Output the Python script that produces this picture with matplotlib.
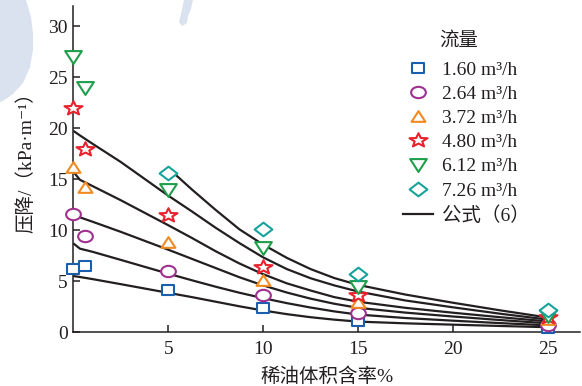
import matplotlib
matplotlib.use("Agg")
import matplotlib.pyplot as plt
from matplotlib.path import Path
from matplotlib.transforms import Affine2D
from matplotlib.patches import Polygon
from matplotlib.lines import Line2D

plt.rcParams['font.family'] = ['Liberation Serif', 'Noto Sans CJK SC', 'DejaVu Serif']

# ---- measured pressure drop (kPa/m) vs. diluent oil volume fraction (%) ----
x_meas = [0, 0.6, 5, 10, 15, 25]
x_meas_726 = [5, 10, 15, 25]

dp_160 = [6.2, 6.5, 4.1, 2.35, 1.15, 0.4]
dp_264 = [11.6, 9.45, 6.05, 3.65, 1.9, 0.72]
dp_372 = [16.2, 14.2, 8.9, 5.1, 3.0, 1.35]
dp_480 = [21.95, 18.0, 11.5, 6.45, 3.65, 1.5]
dp_612 = [27.0, 24.0, 13.95, 8.3, 4.4, 1.6]
dp_726 = [15.65, 10.1, 5.7, 2.2]

flow_labels = ['1.60 m³/h', '2.64 m³/h', '3.72 m³/h',
               '4.80 m³/h', '6.12 m³/h', '7.26 m³/h']
formula_label = '公式（6）'
legend_title = '流量'

# ---- values given by formula (6) ----
x_calc = [0, 0.35, 1, 2.5, 5, 6.25, 7.5, 8.75, 10, 11.25, 12.5, 13.75, 15,
          17.5, 20, 22.5, 25]
x_calc_726 = [5, 6.25, 7.5, 8.75, 10, 11.25, 12.5, 13.75, 15, 17.5, 20, 22.5, 25]

calc_160 = [5.52, 5.42, 5.22, 4.72, 3.87, 3.45, 3.0, 2.55, 2.14, 1.78, 1.48,
            1.24, 1.05, 0.88, 0.75, 0.62, 0.5]
calc_264 = [8.72, 8.2, 7.9, 7.1, 5.75, 5.1, 4.47, 3.88, 3.35, 2.86, 2.43,
            2.05, 1.74, 1.4, 1.14, 0.9, 0.68]
calc_372 = [11.67, 11.27, 10.85, 9.85, 8.1, 7.2, 6.3, 5.4, 4.6, 3.9, 3.3,
            2.8, 2.4, 1.93, 1.55, 1.2, 0.88]
calc_480 = [15.75, 14.95, 14.35, 12.95, 10.5, 9.25, 7.95, 6.75, 5.7, 4.8, 4.1,
            3.45, 3.0, 2.4, 1.92, 1.48, 1.07]
calc_612 = [19.75, 19.3, 18.5, 16.7, 13.4, 11.85, 10.25, 8.75, 7.35, 6.2, 5.3,
            4.6, 4.0, 3.12, 2.45, 1.82, 1.25]
calc_726 = [16.1, 14.0, 12.0, 10.1, 8.6, 7.3, 6.2, 5.32, 4.65, 3.7, 2.9,
            2.15, 1.45]

colors = ['#1a5fae', '#a0308f', '#f28a22', '#e8232e', '#1f9e4b', '#17a39b']

# ---- slightly widened marker shapes ----
SX = 1.3


def widened(path):
    return Affine2D().scale(SX, 1.0).transform_path(path)


square = widened(Path([(-1, -1), (1, -1), (1, 1), (-1, 1), (-1, -1)],
                      [Path.MOVETO, Path.LINETO, Path.LINETO, Path.LINETO, Path.CLOSEPOLY]))
ellipse = widened(Path.unit_circle())
tri_up = widened(Path([(0, 1), (-1, -1), (1, -1), (0, 1)],
                      [Path.MOVETO, Path.LINETO, Path.LINETO, Path.CLOSEPOLY]))
star = widened(Path.unit_regular_star(5, 0.42))
tri_down = widened(Path([(0, -1), (-1, 1), (1, 1), (0, -1)],
                        [Path.MOVETO, Path.LINETO, Path.LINETO, Path.CLOSEPOLY]))
diamond = widened(Path([(0, -1), (1, 0), (0, 1), (-1, 0), (0, -1)],
                       [Path.MOVETO, Path.LINETO, Path.LINETO, Path.LINETO, Path.CLOSEPOLY]))

markers = [square, ellipse, tri_up, star, tri_down, diamond]
msizes = [9.0, 10.6, 10.0, 13.0, 12.0, 12.8]

fig = plt.figure(figsize=(5.82, 3.86), dpi=100)

# pale stains in the paper background
W, H = 582.0, 386.0


def stain(pts):
    return Polygon([(px / W, 1 - py / H) for px, py in pts], closed=True,
                   transform=fig.transFigure, facecolor='#d9e2ee',
                   edgecolor='none', zorder=0)


fig.patches.append(stain([(0, 0), (26, 0), (31, 17), (33, 33), (33, 50), (30, 67),
                          (23, 83), (13, 94), (3, 101), (0, 102)]))
fig.patches.append(stain([(184, 0), (193, 0), (191, 9), (188, 16), (187, 23),
                          (182, 26), (179, 22), (181, 14)]))

ax = fig.add_axes([73.3 / W, 1 - 332.3 / H, (580 - 73.3) / W, (332.3 - 5.9) / H])
ax.patch.set_alpha(0)

ink = '#231f20'

# formula curves
curve_sets = [(x_calc, calc_160), (x_calc, calc_264), (x_calc, calc_372),
              (x_calc, calc_480), (x_calc, calc_612), (x_calc_726, calc_726)]
for xc, yc in curve_sets:
    ax.plot(xc, yc, color=ink, lw=1.6, zorder=2, solid_capstyle='butt',
            solid_joinstyle='round')

# measurements
meas_sets = [(x_meas, dp_160), (x_meas, dp_264), (x_meas, dp_372),
             (x_meas, dp_480), (x_meas, dp_612), (x_meas_726, dp_726)]
handles = []
for (xm, ym), c, mk, ms, lab in zip(meas_sets, colors, markers, msizes, flow_labels):
    h, = ax.plot(xm, ym, linestyle='none', marker=mk, markersize=ms,
                 markerfacecolor='white', markeredgecolor=c, markeredgewidth=1.5,
                 zorder=3, label=lab, clip_on=False)
    handles.append(h)
handles.append(Line2D([], [], color=ink, lw=1.6, label=formula_label))

ax.set_xlim(0, 26.7)
ax.set_ylim(0, 32)
ax.set_xticks([5, 10, 15, 20, 25])
ax.set_yticks([0, 5, 10, 15, 20, 25, 30])

for side in ('top', 'right'):
    ax.spines[side].set_visible(False)
for side in ('left', 'bottom'):
    ax.spines[side].set_color(ink)
    ax.spines[side].set_linewidth(1.1)

ax.tick_params(direction='in', length=5, width=1.1, color=ink,
               labelsize=14, labelcolor=ink)
ax.tick_params(axis='x', pad=6)
ax.tick_params(axis='y', pad=4)

ax.set_xlabel('稀油体积含率%', fontsize=14, color=ink, labelpad=7)
ax.set_ylabel('压降/（kPa·m⁻¹）', fontsize=14, color=ink)
ax.yaxis.set_label_coords(-0.074, 0.535)

leg = ax.legend(handles=handles, frameon=False,
                loc='upper left', bbox_to_anchor=(403 / W, 1 - 61 / H),
                bbox_transform=fig.transFigure, borderpad=0, borderaxespad=0,
                handlelength=1.55, handletextpad=0.45, labelspacing=0.34,
                fontsize=14)
for t in leg.get_texts():
    t.set_color(ink)

fig.text(459 / W, 1 - 41 / H, legend_title, fontsize=14, color=ink,
         ha='center', va='center')

fig.savefig('out.png', dpi=100)
